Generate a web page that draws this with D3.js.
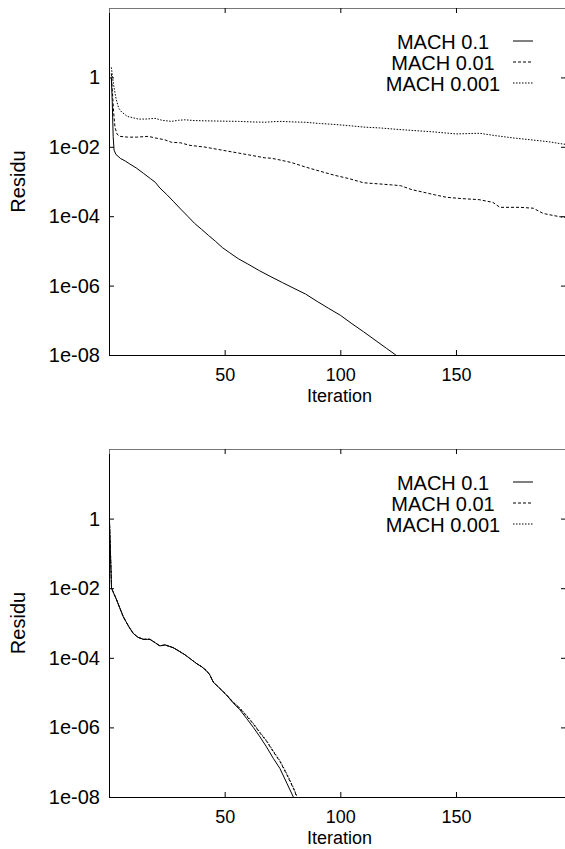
<!DOCTYPE html>
<html>
<head>
<meta charset="utf-8">
<script src="https://cdn.jsdelivr.net/npm/d3@7"></script>
<style>
  body { margin: 0; background: #fff; }
  svg { display: block; }
  text { font-family: "Liberation Sans", Arial, sans-serif; fill: #000; }
</style>
</head>
<body>
<svg width="565" height="849"></svg>
<script>
// tick labels
var xTicks = [50, 100, 150];
var yTicks = [1, 1e-2, 1e-4, 1e-6, 1e-8];
var yTickLabels = ["1", "1e-02", "1e-04", "1e-06", "1e-08"];
var seriesNames = ["MACH 0.1", "MACH 0.01", "MACH 0.001"];

// top panel, [iteration, residu]
var top01 = [[1, 1.0], [1.4, 0.2], [1.8, 2e-2], [2.2, 8e-3], [3, 6e-3], [5, 4.6e-3], [7, 3.9e-3],
  [9, 3.2e-3], [12, 2.4e-3], [15, 1.7e-3], [18, 1.2e-3], [20, 9.5e-4], [22, 6.5e-4], [25, 4.2e-4],
  [28, 2.6e-4], [31, 1.6e-4], [34, 1.0e-4], [37, 6.2e-5], [40, 4.2e-5], [43, 2.8e-5], [46, 1.9e-5],
  [49, 1.25e-5], [52, 9.0e-6], [56, 5.9e-6], [60, 4.2e-6], [65, 2.7e-6], [70, 1.8e-6], [75, 1.22e-6],
  [80, 8.3e-7], [85, 5.7e-7], [90, 3.5e-7], [95, 2.2e-7], [100, 1.4e-7], [105, 8e-8], [110, 4.7e-8],
  [115, 2.7e-8], [120, 1.55e-8], [124, 1.0e-8], [127, 7e-9]];
var top001 = [[1, 1.3], [2, 0.1], [2.6, 3.6e-2], [3.5, 2.3e-2], [4.7, 2.0e-2], [8, 1.9e-2], [12, 1.9e-2],
  [17, 2.0e-2], [20, 1.8e-2], [24, 1.6e-2], [27, 1.35e-2], [31, 1.3e-2], [35, 1.1e-2], [41.5, 9.8e-3],
  [48, 8.2e-3], [56, 6.6e-3], [62, 5.6e-3], [67.4, 4.8e-3], [70, 4.7e-3], [73, 4.3e-3], [79, 3.5e-3],
  [85, 2.6e-3], [91, 2.0e-3], [97.7, 1.5e-3], [104, 1.2e-3], [110, 9.2e-4], [117, 8.5e-4], [122, 8.0e-4],
  [126, 7.6e-4], [131, 5.8e-4], [136, 4.9e-4], [141, 4.1e-4], [146, 3.5e-4], [153, 3.2e-4], [160, 3.0e-4],
  [166, 2.5e-4], [169, 1.8e-4], [177.7, 1.8e-4], [183.4, 1.7e-4], [187.7, 1.2e-4], [192, 1.05e-4],
  [196.3, 9.3e-5], [199, 8.8e-5]];
var top0001 = [[1, 1.95], [2, 0.6], [3, 0.25], [4.2, 0.13], [5.5, 0.1], [8, 7.5e-2], [12.7, 6.3e-2],
  [16, 6.3e-2], [19.9, 6.6e-2], [23, 5.8e-2], [27, 5.4e-2], [30, 5.8e-2], [32.8, 6.0e-2], [37, 5.7e-2],
  [41.5, 5.6e-2], [48, 5.5e-2], [55.9, 5.4e-2], [62, 5.2e-2], [67.4, 5.1e-2], [71, 5.3e-2], [74.6, 5.4e-2],
  [80, 5.2e-2], [84.7, 5.1e-2], [91, 4.7e-2], [97.7, 4.4e-2], [105, 4.0e-2], [110, 3.7e-2], [117, 3.5e-2],
  [124, 3.2e-2], [131.5, 2.95e-2], [140, 2.7e-2], [150, 2.35e-2], [155, 2.4e-2], [160.3, 2.45e-2],
  [167, 2.1e-2], [174.7, 1.8e-2], [182, 1.6e-2], [190, 1.4e-2], [196.3, 1.2e-2], [199, 1.15e-2]];

// bottom panel
var bot01 = [[0.2, 0.9], [1.1, 1e-2], [3.3, 4.6e-3], [6.2, 1.5e-3], [8.5, 8e-4], [10.5, 5.0e-4],
  [12.5, 3.9e-4], [14.8, 3.4e-4], [17.7, 3.4e-4], [20, 2.7e-4], [22, 2.2e-4], [24.2, 2.35e-4],
  [27.8, 1.95e-4], [30.7, 1.5e-4], [33, 1.2e-4], [35, 9.5e-5], [37.9, 6.8e-5], [40, 5.6e-5],
  [42.2, 4.2e-5], [43.5, 3.3e-5], [45.1, 2.0e-5], [48, 1.3e-5], [50.8, 8.5e-6], [53.5, 5.2e-6],
  [56.6, 3.2e-6], [59.5, 1.8e-6], [62.4, 1.0e-6], [65.3, 5.3e-7], [68.1, 2.75e-7], [71, 1.3e-7],
  [73.9, 6.6e-8], [77, 2.4e-8], [79.7, 1.0e-8], [81, 6e-9]];
var bot001 = [[0.2, 0.9], [1.1, 1e-2], [3.3, 4.6e-3], [6.2, 1.5e-3], [8.5, 8e-4], [10.5, 5.0e-4],
  [12.5, 3.9e-4], [14.8, 3.4e-4], [17.7, 3.4e-4], [20, 2.7e-4], [22, 2.2e-4], [24.2, 2.35e-4],
  [27.8, 1.95e-4], [30.7, 1.5e-4], [33, 1.2e-4], [35, 9.5e-5], [37.9, 6.8e-5], [40, 5.6e-5],
  [42.2, 4.2e-5], [43.5, 3.3e-5], [45.1, 2.0e-5], [48, 1.3e-5], [50.8, 8.6e-6], [53.5, 5.4e-6],
  [56.6, 3.5e-6], [59.5, 2.1e-6], [62.4, 1.25e-6], [65.3, 6.8e-7], [68.1, 4.0e-7], [71, 2.0e-7],
  [73.9, 1.05e-7], [77, 4.2e-8], [80, 1.6e-8], [81.5, 9e-9], [82.5, 6e-9]];
var bot0001 = [[0.2, 0.9], [1.1, 1e-2], [3.3, 4.6e-3], [6.2, 1.5e-3], [8.5, 8e-4], [10.5, 5.0e-4],
  [12.5, 3.9e-4], [14.8, 3.4e-4], [17.7, 3.4e-4], [20, 2.7e-4], [22, 2.2e-4], [24.2, 2.35e-4],
  [27.8, 1.95e-4], [30.7, 1.5e-4], [33, 1.2e-4], [35, 9.5e-5], [37.9, 6.8e-5], [40, 5.6e-5],
  [42.2, 4.2e-5], [43.5, 3.3e-5], [45.1, 2.0e-5], [48, 1.3e-5], [50.8, 8.6e-6], [53.5, 5.5e-6],
  [56.6, 3.6e-6], [59.5, 2.2e-6], [62.4, 1.3e-6], [65.3, 7.2e-7], [68.1, 4.2e-7], [71, 2.1e-7],
  [73.9, 1.1e-7], [77, 4.5e-8], [80, 1.7e-8], [81.6, 9e-9], [82.6, 6e-9]];

var dashes = [null, "3,2", "1.5,1.5"];
var svg = d3.select("svg");

function drawPanel(top, bottom, data, id){
    var left = 109, right = 567;
    var x = d3.scaleLinear().domain([0, 198]).range([left, right]);
    var y = d3.scaleLog().domain([1e-8, 1e2]).range([bottom, top]);
    var g = svg.append("g");

    g.append("clipPath").attr("id", id)
        .append("rect").attr("x", left).attr("y", top)
        .attr("width", right - left).attr("height", bottom - top);

    var line = d3.line()
        .x(function(d){ return x(d[0]); })
        .y(function(d){ return y(d[1]); });

    for(var i = 0; i < data.length; i++){
        g.append("path")
            .attr("d", line(data[i]))
            .attr("clip-path", "url(#" + id + ")")
            .attr("fill", "none")
            .attr("stroke", "#000")
            .attr("stroke-width", 1)
            .attr("stroke-dasharray", dashes[i]);
    }

    var yAxis = d3.axisLeft(y).tickValues(yTicks).tickSize(-5).tickPadding(9)
        .tickFormat(function(d, i){ return yTickLabels[i]; });
    var gy = g.append("g").attr("transform", "translate(" + left + ",0)").call(yAxis);
    var gyr = g.append("g").attr("transform", "translate(" + (right - 1) + ",0)")
        .call(d3.axisRight(y).tickValues(yTicks).tickSize(-5).tickFormat(""));
    var xAxis = d3.axisBottom(x).tickValues(xTicks).tickSize(-5);
    var gx = g.append("g").attr("transform", "translate(0," + bottom + ")").call(xAxis);
    var gxt = g.append("g").attr("transform", "translate(0," + top + ")")
        .call(d3.axisTop(x).tickValues(xTicks).tickSize(-5).tickFormat(""));
    gxt.select(".domain").attr("stroke", "#777");

    g.selectAll(".tick text")
        .style("font-family", "'Liberation Sans', Arial, sans-serif")
        .style("font-size", "20px")
        .attr("fill", "#000");
    gx.selectAll(".tick text")
        .style("font-size", "18px")
        .attr("y", 26)
        .attr("dy", 0);

    g.append("text")
        .attr("x", (left + 574) / 2 - 2)
        .attr("y", bottom + 47)
        .attr("text-anchor", "middle")
        .style("font-size", "18px")
        .text("Iteration");
    g.append("text")
        .attr("transform", "translate(25," + ((top + bottom) / 2) + ") rotate(-90)")
        .attr("text-anchor", "middle")
        .style("font-size", "20px")
        .text("Residu");

    for(var j = 0; j < seriesNames.length; j++){
        var ly = top + 33 + j * 21;
        g.append("text")
            .attr("x", 443)
            .attr("y", ly + 8)
            .attr("text-anchor", "middle")
            .style("font-size", "20px")
            .text(seriesNames[j]);
        g.append("line")
            .attr("x1", 513).attr("x2", 533)
            .attr("y1", ly).attr("y2", ly)
            .attr("stroke", "#000")
            .attr("stroke-width", 1)
            .attr("stroke-dasharray", dashes[j]);
    }
}

drawPanel(8, 355, [top01, top001, top0001], "clipTop");
drawPanel(449, 797, [bot01, bot001, bot0001], "clipBot");
</script>
</body>
</html>
